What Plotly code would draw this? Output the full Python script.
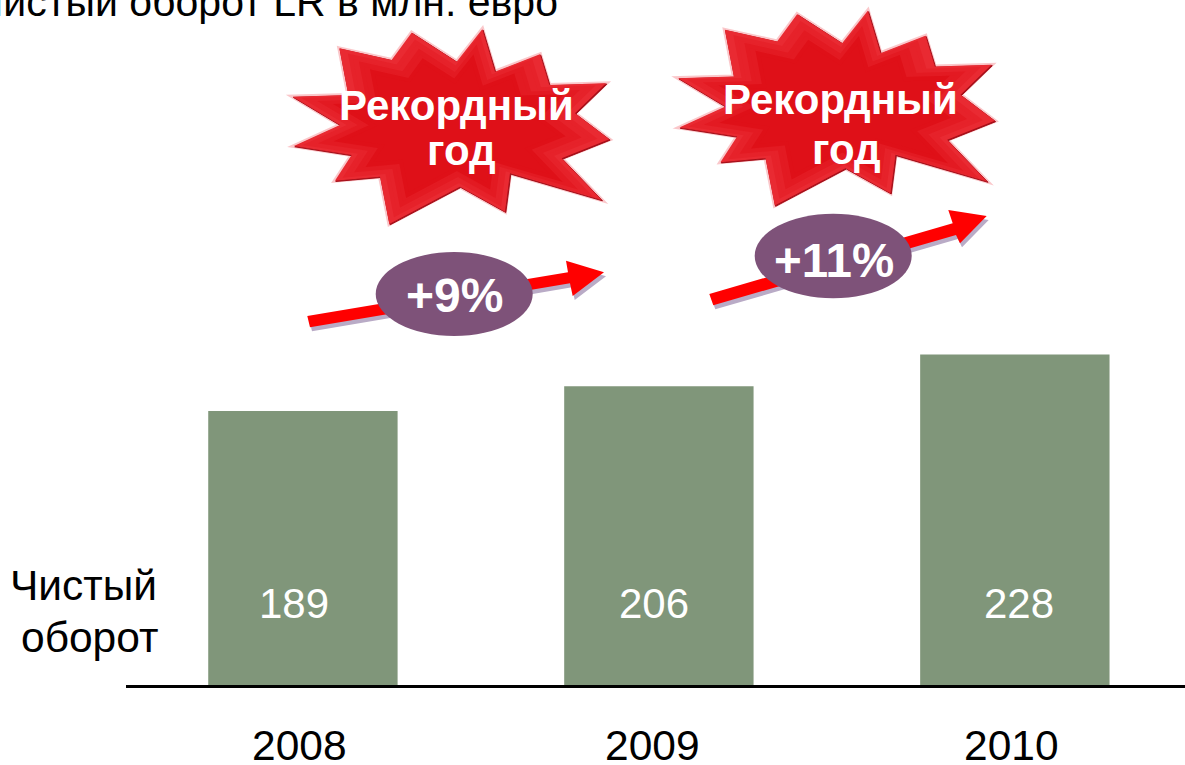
import plotly.graph_objects as go

W, H = 1185, 765
BASE = 685

years = ["2008", "2009", "2010"]
values = [189, 206, 228]
row_label = ["Чистый", "оборот"]
title_text = "Чистый оборот LR в млн. евро"
badge_labels = ["+9%", "+11%"]
burst_label = ["Рекордный", "год"]

GREEN = "#80967A"
PURPLE = "#7E5279"
FONT = "Liberation Sans, Arial, sans-serif"


def px(x):
    return x / W


def py(y):
    return 1 - y / H


def path(points):
    return "M " + " L ".join(f"{px(x):.5f},{py(y):.5f}" for x, y in points) + " Z"


star_outline = [(178, 85), (335, 120), (395, 38), (530, 125), (607, 28), (645, 155),
                (780, 103), (808, 195), (978, 190), (885, 280), (988, 358), (845, 415),
                (965, 540), (690, 460), (675, 575), (540, 500), (328, 612), (300, 470),
                (165, 482), (215, 405), (42, 378), (180, 315), (38, 230), (205, 225)]


def star(ox, oy, dx=0, dy=0):
    return [(ox + x / 3 + dx, oy + y / 3 + dy) for x, y in star_outline]


shapes = []


def add_poly(pts, fill, line="rgba(0,0,0,0)", width=0):
    shapes.append(dict(type="path", xref="paper", yref="paper", path=path(pts),
                       fillcolor=fill, line=dict(color=line, width=width), layer="above"))


for ox, oy in [(280, 20), (665.5, 1.5)]:
    add_poly(star(ox, oy), "rgba(240,60,70,0.3)", "rgba(240,70,80,0.3)", 4)
    add_poly(star(ox, oy, 0.8, 0.8), "#A50E18", "#A50E18", 1)
    add_poly(star(ox, oy), "#E92A32")
    cx, cy = ox + 170, oy + 107
    for k, col in [(0.9, "#E6222A"), (0.8, "#E31A22"), (0.7, "#DF1018")]:
        inner = [(cx + (x - cx) * k, cy + (y - cy) * k) for x, y in star(ox, oy)]
        add_poly(inner, col, col, 4)

arrow1 = [(307.3, 316), (568, 272.3), (566, 260.7), (604, 272.3), (572.7, 296), (570, 283.3), (310, 327.3)]
arrow2 = [(709.3, 294), (952.7, 223.3), (948.3, 210), (986.7, 216), (960, 243.3), (956, 235), (713.3, 305.3)]
for arrow in (arrow1, arrow2):
    add_poly([(x + 2, y + 4) for x, y in arrow], "#B9ABC6")
    add_poly(arrow, "#FF0000")

for x0, x1, y0, y1 in [(375.7, 532.7, 252, 336), (754.7, 911.7, 213.7, 298.3)]:
    shapes.append(dict(type="circle", xref="paper", yref="paper",
                       x0=px(x0), x1=px(x1), y0=py(y1), y1=py(y0),
                       fillcolor=PURPLE, line=dict(width=0), layer="above"))


def note(text, x, y, size, color="#000000", bold=False, anchor="center"):
    t = f"<b>{text}</b>" if bold else text
    return dict(text=t, x=px(x), y=py(y), xref="paper", yref="paper", showarrow=False,
                xanchor=anchor, yanchor="middle",
                font=dict(family=FONT, size=size, color=color))


annotations = [
    note(title_text, 560, 2, 41, anchor="right"),
    note(row_label[0], 159, 585, 42.5, anchor="right"),
    note(row_label[1], 160, 637, 42.5, anchor="right"),
    note(burst_label[0], 456, 106, 42, "#FFFFFF", True),
    note(burst_label[1], 461, 151, 42, "#FFFFFF", True),
    note(burst_label[0], 840, 100, 42, "#FFFFFF", True),
    note(burst_label[1], 846, 150, 42, "#FFFFFF", True),
    note(badge_labels[0], 454, 296, 48, "#FFFFFF", True),
    note(badge_labels[1], 834, 260, 47.5, "#FFFFFF", True),
]
for i, (year, value, xs_v, xs_y) in enumerate(zip(years, values, [-9, -5, 4], [-3, -6.5, -3])):
    annotations.append(dict(text=str(value), x=i, y=56, xref="x", yref="y", xshift=xs_v,
                            showarrow=False, font=dict(family=FONT, size=42, color="#FFFFFF")))
    annotations.append(dict(text=year, x=i, y=py(745), xref="x", yref="paper", xshift=xs_y,
                            showarrow=False, yanchor="middle", height=38,
                            font=dict(family=FONT, size=42.5, color="#000000")))

fig = go.Figure(go.Bar(x=years, y=values, marker=dict(color=GREEN, line=dict(width=0)),
                       width=0.532, hoverinfo="skip"))
fig.update_layout(
    width=W, height=H, autosize=False,
    margin=dict(l=0, r=0, t=0, b=0),
    paper_bgcolor="#FFFFFF", plot_bgcolor="#FFFFFF",
    showlegend=False, shapes=shapes, annotations=annotations,
    xaxis=dict(domain=[126 / W, 1], type="category", range=[-0.497, 2.478],
               showgrid=False, zeroline=False, showticklabels=False, ticks="",
               showline=True, linecolor="#000000", linewidth=3),
    yaxis=dict(domain=[1 - BASE / H, 1], range=[0, BASE / 1.45], visible=False),
)
fig.write_html("out.html", config={"displayModeBar": False},
               post_script="document.body.style.margin='0';document.body.style.overflow='hidden';")
